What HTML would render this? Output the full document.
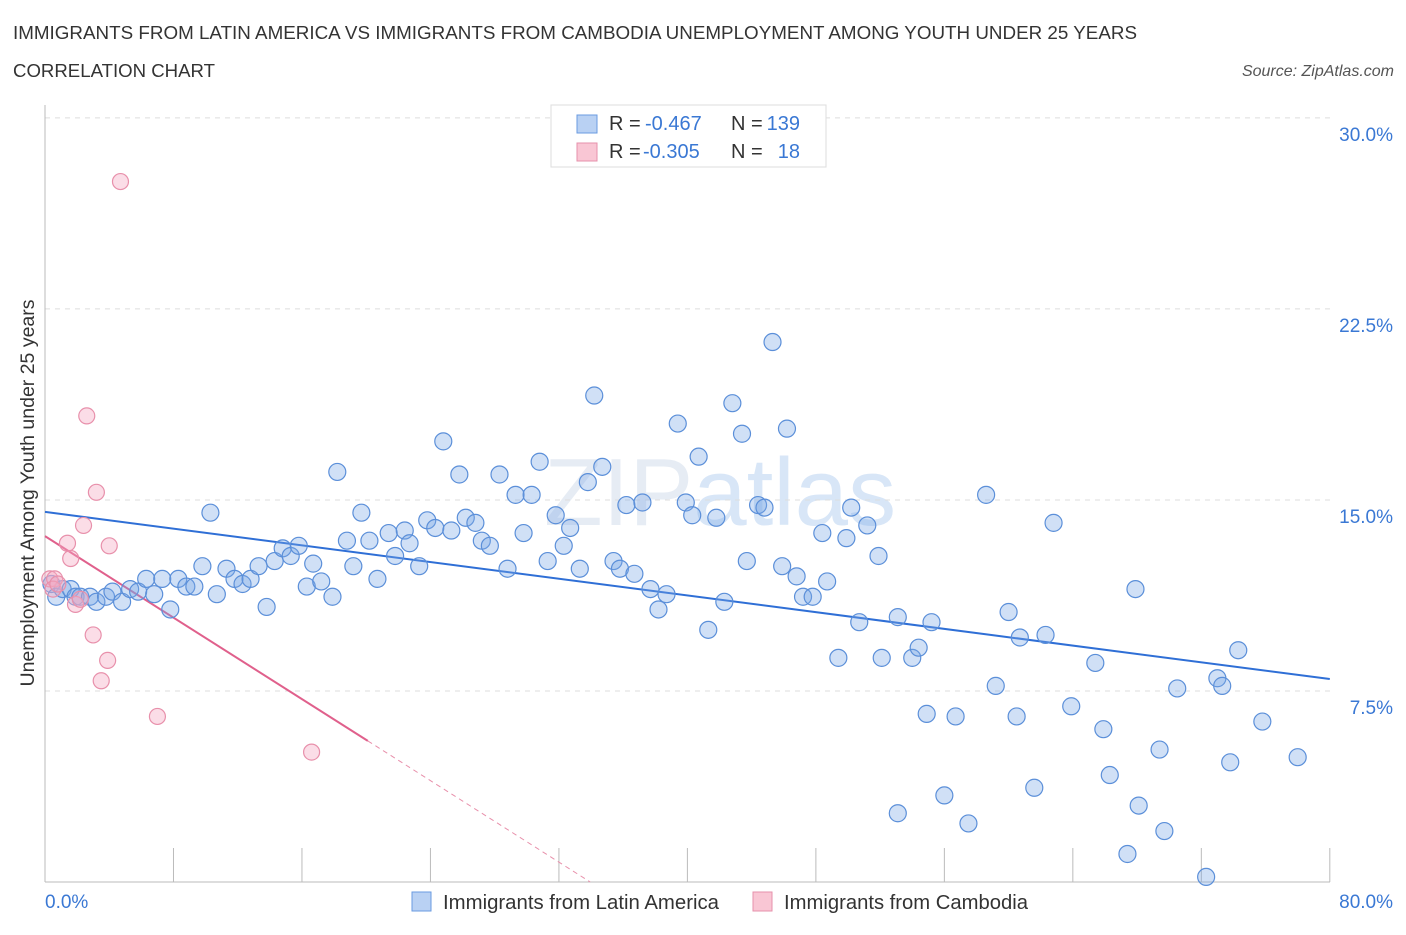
<!DOCTYPE html>
<html><head><meta charset="utf-8"><style>
body{margin:0;background:#fff;font-family:"Liberation Sans",sans-serif;}
svg text{font-family:"Liberation Sans",sans-serif;}
</style></head><body>
<svg id="chart" width="1406" height="930" xmlns="http://www.w3.org/2000/svg">
<text x="13" y="39" font-size="18.5" fill="#333" textLength="1124" lengthAdjust="spacingAndGlyphs">IMMIGRANTS FROM LATIN AMERICA VS IMMIGRANTS FROM CAMBODIA UNEMPLOYMENT AMONG YOUTH UNDER 25 YEARS</text>
<text x="13" y="77" font-size="18.5" fill="#333" textLength="202" lengthAdjust="spacingAndGlyphs">CORRELATION CHART</text>
<text x="1394" y="76" font-size="16" fill="#555" text-anchor="end" font-style="italic">Source: ZipAtlas.com</text>
<text x="720" y="525" font-size="96" fill="#e6ecf4" text-anchor="middle" font-family="Liberation Serif">ZIP<tspan fill="#d8e6f7" font-family="Liberation Sans">atlas</tspan></text>
<g id="grid"></g><g id="axes"></g><g id="lines"></g><g id="pts"></g>
<text transform="translate(34,493) rotate(-90)" font-size="19.5" fill="#333" text-anchor="middle">Unemployment Among Youth under 25 years</text>
<text x="45" y="908" font-size="19" fill="#3a78d4">0.0%</text>
<text x="1393" y="908" font-size="19" fill="#3a78d4" text-anchor="end">80.0%</text>
<g>
<rect x="551" y="105" width="275" height="62" fill="#fff" stroke="#ddd"/>
<rect x="577" y="115" width="20" height="18" fill="#b9d1f3" stroke="#6a9be0"/>
<rect x="577" y="143" width="20" height="18" fill="#f9c6d4" stroke="#e690ab"/>
<text x="609" y="130" font-size="20" fill="#333">R =</text>
<text x="645" y="130" font-size="20" fill="#3a78d4">-0.467</text>
<text x="731" y="130" font-size="20" fill="#333">N =</text>
<text x="800" y="130" font-size="20" fill="#3a78d4" text-anchor="end">139</text>
<text x="609" y="158" font-size="20" fill="#333">R =</text>
<text x="643" y="158" font-size="20" fill="#3a78d4">-0.305</text>
<text x="731" y="158" font-size="20" fill="#333">N =</text>
<text x="800" y="158" font-size="20" fill="#3a78d4" text-anchor="end">18</text>
</g>
<g>
<rect x="412" y="892" width="19" height="19" fill="#b9d1f3" stroke="#6a9be0"/>
<text x="443" y="909" font-size="20" fill="#333" textLength="276" lengthAdjust="spacingAndGlyphs">Immigrants from Latin America</text>
<rect x="753" y="892" width="19" height="19" fill="#f9c6d4" stroke="#e690ab"/>
<text x="784" y="909" font-size="20" fill="#333" textLength="244" lengthAdjust="spacingAndGlyphs">Immigrants from Cambodia</text>
</g>
</svg>
<script>
const yTicks=[7.5,15,22.5,30];
const yTickLabels=["7.5%","15.0%","22.5%","30.0%"];
const xTicks=[0,8,16,24,32,40,48,56,64,72,80];
const blueX=[0.4,0.7,1.1,1.6,1.9,2.2,2.8,3.2,3.8,4.2,4.8,5.3,5.8,6.3,6.8,7.3,7.8,8.3,8.8,9.3,9.8,10.3,10.7,11.3,11.8,12.3,12.8,13.3,13.8,14.3,14.8,15.3,15.8,16.3,16.7,17.2,17.9,18.2,18.8,19.2,19.7,20.2,20.7,21.4,21.8,22.4,22.7,23.3,23.8,24.3,24.8,25.3,25.8,26.2,26.8,27.2,27.7,28.3,28.8,29.3,29.8,30.3,30.8,31.3,31.8,32.3,32.7,33.3,33.8,34.2,34.7,35.4,35.8,36.2,36.7,37.2,37.7,38.2,38.7,39.4,39.9,40.3,40.7,41.3,41.8,42.3,42.8,43.4,43.7,44.4,44.8,45.3,45.9,46.2,46.8,47.2,47.8,48.4,48.7,49.4,49.9,50.2,50.7,51.2,51.9,52.1,53.1,53.1,54.0,54.4,54.9,55.2,56.0,56.7,57.5,58.6,59.2,60.0,60.5,60.7,61.6,62.3,62.8,63.9,65.4,65.9,66.3,67.4,67.9,68.1,69.4,69.7,70.5,72.3,73.0,73.3,73.8,74.3,75.8,78.0];
const blueY=[11.7,11.2,11.5,11.5,11.2,11.2,11.2,11.0,11.2,11.4,11.0,11.5,11.4,11.9,11.3,11.9,10.7,11.9,11.6,11.6,12.4,14.5,11.3,12.3,11.9,11.7,11.9,12.4,10.8,12.6,13.1,12.8,13.2,11.6,12.5,11.8,11.2,16.1,13.4,12.4,14.5,13.4,11.9,13.7,12.8,13.8,13.3,12.4,14.2,13.9,17.3,13.8,16.0,14.3,14.1,13.4,13.2,16.0,12.3,15.2,13.7,15.2,16.5,12.6,14.4,13.2,13.9,12.3,15.7,19.1,16.3,12.6,12.3,14.8,12.1,14.9,11.5,10.7,11.3,18.0,14.9,14.4,16.7,9.9,14.3,11.0,18.8,17.6,12.6,14.8,14.7,21.2,12.4,17.8,12.0,11.2,11.2,13.7,11.8,8.8,13.5,14.7,10.2,14.0,12.8,8.8,10.4,2.7,8.8,9.2,6.6,10.2,3.4,6.5,2.3,15.2,7.7,10.6,6.5,9.6,3.7,9.7,14.1,6.9,8.6,6.0,4.2,1.1,11.5,3.0,5.2,2.0,7.6,0.2,8.0,7.7,4.7,9.1,6.3,4.9];
const pinkX=[0.3,0.6,0.5,0.8,1.4,1.6,1.9,2.2,2.4,2.6,3.0,3.2,3.5,3.9,4.0,4.7,7.0,16.6];
const pinkY=[11.9,11.9,11.5,11.7,13.3,12.7,10.9,11.1,14.0,18.3,9.7,15.3,7.9,8.7,13.2,27.5,6.5,5.1];
const blueTrend=[14.53,7.97];
const pinkTrend=[13.58,-0.4];
const X=v=>45+v*16.06, Y=v=>882-v*25.47;
const NS="http://www.w3.org/2000/svg";
function mk(t,a,p){const e=document.createElementNS(NS,t);for(const k in a)e.setAttribute(k,a[k]);p.appendChild(e);return e;}
const grid=document.getElementById('grid'),axes=document.getElementById('axes'),lines=document.getElementById('lines'),pts=document.getElementById('pts');
yTicks.forEach((t,i)=>{
 const l=mk('line',{x1:45,x2:1330,y1:Y(t),y2:Y(t),stroke:'#ddd','stroke-dasharray':'5,5'},grid);
 
 
 const tx=mk('text',{x:1393,y:Y(t)+23,'font-size':19,fill:'#3a78d4','text-anchor':'end'},grid);
 tx.textContent=yTickLabels[i];
 
 
});
const ax=mk('line',{x1:45,x2:45,y1:105,y2:882,stroke:'#bbb'},axes);


const bx=mk('line',{x1:45,x2:1330,y1:882,y2:882,stroke:'#bbb'},axes);


xTicks.forEach(t=>{
 const l=mk('line',{x1:X(t),x2:X(t),y1:848,y2:882,stroke:'#bbb'},axes);
 
 
});
const bl=mk('line',{x1:X(0),y1:Y(blueTrend[0]),x2:X(80),y2:Y(blueTrend[1]),stroke:'#2f6fd6','stroke-width':2},lines);


const pe=20.1, pz=-pinkTrend[0]/pinkTrend[1];
const pl=mk('line',{x1:X(0),y1:Y(pinkTrend[0]),x2:X(pe),y2:Y(pinkTrend[0]+pinkTrend[1]*pe),stroke:'#e0608c','stroke-width':2},lines);


const pd=mk('line',{x1:X(pe),y1:Y(pinkTrend[0]+pinkTrend[1]*pe),x2:X(pz),y2:Y(0),stroke:'#e890ab','stroke-width':1,'stroke-dasharray':'5,4'},lines);


blueX.forEach((x,i)=>{
 const c=mk('circle',{cx:X(x),cy:Y(blueY[i]),r:8.5,fill:'rgba(120,165,230,0.35)',stroke:'#5b8fd9','stroke-width':1.2},pts);
 
 
});
pinkX.forEach((x,i)=>{
 const c=mk('circle',{cx:X(x),cy:Y(pinkY[i]),r:8,fill:'rgba(245,170,195,0.4)',stroke:'#e890ab','stroke-width':1.2},pts);
 
 
});
</script>
</body></html>
